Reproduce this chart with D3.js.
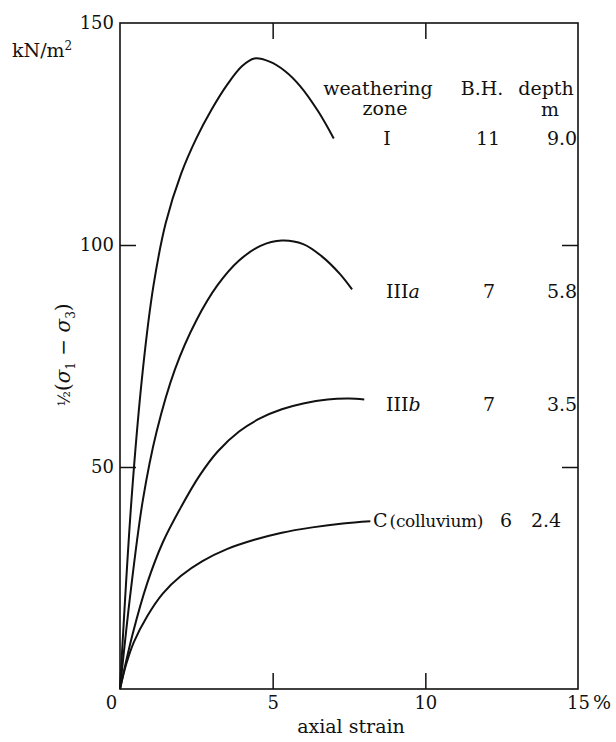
<!DOCTYPE html>
<html>
<head>
<meta charset="utf-8">
<script src="https://cdn.jsdelivr.net/npm/d3@7"></script>
<style>
  body { margin: 0; background: #fff; }
  text { font-family: "DejaVu Serif", "Liberation Serif", serif; fill: #111; }
</style>
</head>
<body>
<div class="chart"></div>
<script>
// axial strain (%) vs 1/2(s1 - s3) kN/m2
var zoneI_x   = [0, 0.38, 0.75, 1.1, 1.5, 2.0, 2.5, 3.0, 3.5, 4.0, 4.4, 4.9, 5.4, 5.9, 6.5, 7.0];
var zoneI_y   = [0, 43, 72, 91, 105, 116, 124, 130.5, 136, 140.3, 142, 141.3, 139.2, 135.8, 130, 124];
var zoneIIIa_x = [0, 0.35, 0.75, 1.2, 1.8, 2.5, 3.2, 3.9, 4.6, 5.3, 6.0, 6.6, 7.2, 7.6];
var zoneIIIa_y = [0, 22, 42.6, 58, 72, 83, 91, 96.5, 99.8, 101, 100.2, 97.5, 93.5, 90];
var zoneIIIb_x = [0, 0.4, 0.9, 1.4, 2.0, 2.6, 3.2, 3.9, 4.6, 5.3, 6.0, 6.8, 7.5, 8.0];
var zoneIIIb_y = [0, 12, 24, 33, 41, 48, 53.5, 58, 61, 63, 64.3, 65.2, 65.4, 65.2];
var zoneC_x   = [0, 0.2, 0.45, 0.9, 1.4, 2.0, 2.7, 3.5, 4.4, 5.3, 6.3, 7.3, 8.2];
var zoneC_y   = [0, 5.5, 10.5, 16.5, 21.5, 25.5, 28.8, 31.5, 33.6, 35.2, 36.4, 37.3, 37.8];

var zones  = ["I", "III", "III", "C"];
var zoneSuffix = ["", "a", "b", "(colluvium)"];
var boreholes = ["11", "7", "7", "6"];
var depths = ["9.0", "5.8", "3.5", "2.4"];

var xTicks = [5, 10];
var xLabels = [0, 5, 10, 15];
var yTicks = [50, 100];
var yLabels = [50, 100, 150];

var W = 616, H = 742;
var plotL = 120, plotR = 578, plotT = 23, plotB = 689;

var x = d3.scaleLinear().domain([0, 15]).range([plotL, plotR]);
var y = d3.scaleLinear().domain([0, 150]).range([plotB, plotT]);

var svg = d3.select(".chart").append("svg")
    .attr("width", W)
    .attr("height", H);

// frame
svg.append("rect")
    .attr("x", x(0)).attr("y", y(150))
    .attr("width", x(15) - x(0)).attr("height", y(0) - y(150))
    .attr("fill", "none").attr("stroke", "#111").attr("stroke-width", 1.6);

// inward ticks on all four sides
var tick = 16;
svg.append("g").attr("transform", "translate(0," + y(0) + ")")
    .call(d3.axisBottom(x).tickValues(xTicks).tickSize(-tick).tickFormat(""));
svg.append("g").attr("transform", "translate(0," + y(150) + ")")
    .call(d3.axisTop(x).tickValues(xTicks).tickSize(-tick).tickFormat(""));
svg.append("g").attr("transform", "translate(" + x(0) + ",0)")
    .call(d3.axisLeft(y).tickValues(yTicks).tickSize(-tick).tickFormat(""));
svg.append("g").attr("transform", "translate(" + x(15) + ",0)")
    .call(d3.axisRight(y).tickValues(yTicks).tickSize(-tick).tickFormat(""));
svg.selectAll(".domain").remove();
svg.selectAll(".tick line").attr("stroke", "#111").attr("stroke-width", 1.5);

// tick labels
var xl = svg.append("g").attr("transform", "translate(0," + y(0) + ")")
    .call(d3.axisBottom(x).tickValues(xLabels).tickSize(0).tickPadding(7));
var yl = svg.append("g").attr("transform", "translate(" + (x(0) - 1) + ",0)")
    .call(d3.axisLeft(y).tickValues(yLabels).tickSize(0).tickPadding(5));
xl.select(".domain").remove();
yl.select(".domain").remove();
svg.selectAll(".tick text")
    .attr("font-family", "DejaVu Serif")
    .attr("font-size", 18)
    .attr("fill", "#111");
xl.selectAll(".tick text").filter(function (d) { return d === 0; }).attr("dx", -9);

svg.append("text")
    .attr("x", x(15) + 15).attr("y", y(0) + 7)
    .attr("dy", "0.71em")
    .attr("font-size", 19)
    .text("%");

svg.append("text")
    .attr("x", (x(0) + x(15)) / 2 + 2).attr("y", 733)
    .attr("text-anchor", "middle")
    .attr("font-size", 19)
    .text("axial strain");

svg.append("text")
    .attr("x", 12).attr("y", 57)
    .attr("font-size", 19)
    .html('kN/m<tspan dy="-7" font-size="12">2</tspan>');

// y title, rotated
var yt = svg.append("text")
    .attr("transform", "translate(70,355) rotate(-90)")
    .attr("text-anchor", "middle")
    .attr("font-size", 20);
yt.append("tspan").attr("font-size", 16).text("½");
yt.append("tspan").text("(");
yt.append("tspan").attr("font-style", "italic").text("σ");
yt.append("tspan").attr("font-size", 12).attr("dy", 5).text("1");
yt.append("tspan").attr("dy", -5).text(" − ");
yt.append("tspan").attr("font-style", "italic").text("σ");
yt.append("tspan").attr("font-size", 12).attr("dy", 5).text("3");
yt.append("tspan").attr("dy", -5).text(")");

// curves
var series = [
    d3.zip(zoneI_x, zoneI_y),
    d3.zip(zoneIIIa_x, zoneIIIa_y),
    d3.zip(zoneIIIb_x, zoneIIIb_y),
    d3.zip(zoneC_x, zoneC_y)
];
var line = d3.line()
    .x(function (d) { return x(d[0]); })
    .y(function (d) { return y(d[1]); })
    .curve(d3.curveCatmullRom.alpha(0.5));

svg.selectAll("path.curve")
    .data(series)
    .enter().append("path")
    .attr("class", "curve")
    .attr("d", line)
    .attr("fill", "none")
    .attr("stroke", "#111")
    .attr("stroke-width", 2);

// table header
var fs = 19;
function label(tx, ty, s, anchor) {
    return svg.append("text").attr("x", tx).attr("y", ty)
        .attr("text-anchor", anchor || "middle")
        .attr("font-size", fs).text(s);
}
label(378, 95, "weathering");
label(385, 115, "zone");
label(482, 95, "B.H.");
label(546, 95, "depth");
label(550, 116, "m");

// table rows
var rowY = [145, 298, 411, 527];
var zoneX = [387, 386, 386, 373];
var bhX = [488, 489, 489, 506];
var depthX = [562, 562, 562, 546];

rowY.forEach(function (ry, i) {
    var t = svg.append("text").attr("x", zoneX[i]).attr("y", ry)
        .attr("text-anchor", i === 0 ? "middle" : "start")
        .attr("font-size", fs);
    t.append("tspan").text(zones[i]);
    if (i === 3) {
        t.append("tspan").attr("dx", 2).attr("font-size", 17).attr("letter-spacing", -0.3).text(zoneSuffix[i]);
    } else if (zoneSuffix[i]) {
        t.append("tspan").attr("font-style", "italic").text(zoneSuffix[i]);
    }
    label(bhX[i], ry, boreholes[i]);
    label(depthX[i], ry, depths[i]);
});
</script>
</body>
</html>
